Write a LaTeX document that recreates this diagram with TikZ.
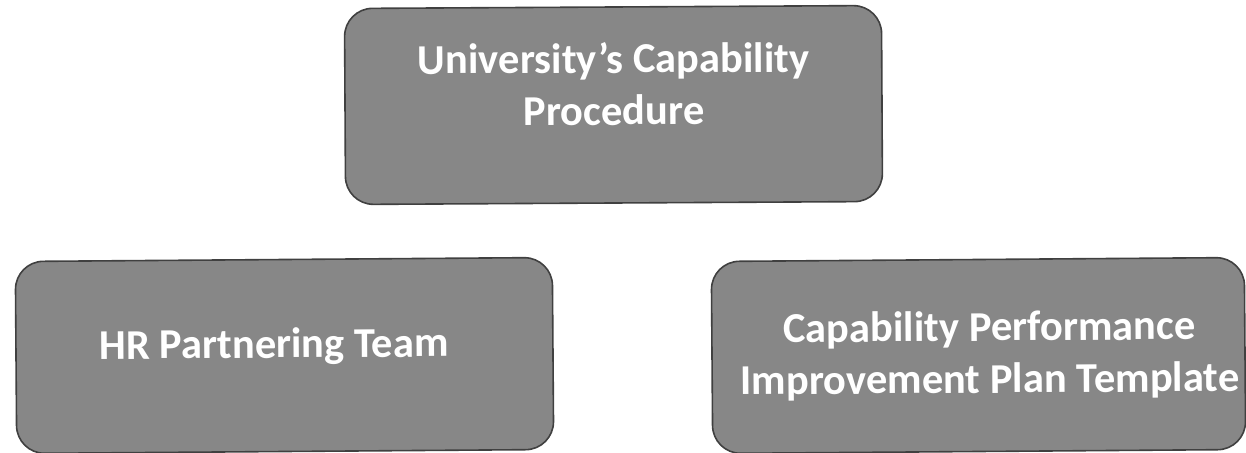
\documentclass[tikz,border=0pt]{standalone}
\usepackage{fontspec}
\setmainfont{Carlito}
\definecolor{cardfill}{HTML}{878787}
\definecolor{cardline}{HTML}{404040}
\begin{document}
\begin{tikzpicture}[x=1pt,y=-1pt,
  card/.style={draw=cardline, line width=1.6pt, fill=cardfill,
    rounded corners=28pt, inner sep=0pt, outer sep=0pt},
  cardtext/.style={text=white, font=\bfseries\fontsize{42.5}{52}\selectfont,
    align=center, anchor=base, inner sep=0pt}]
\useasboundingbox (0,0) rectangle (1246,452);
% the three cards
\node[card, minimum width=537pt, minimum height=196pt, rotate=0.32] (proc) at (613.5,105) {};
\node[card, minimum width=537pt, minimum height=192pt, rotate=0.43] (hr) at (284.5,355.5) {};
\node[card, minimum width=533pt, minimum height=192pt, rotate=0.43] (plan) at (978.5,355.5) {};
% card labels (base anchor sits on the last line)
\node[cardtext, rotate=0.32] (proctext) at (614,125) {University’s Capability\\Procedure};
\node[cardtext, rotate=0.43] (hrtext) at (274,358) {HR Partnering Team};
\node[cardtext, rotate=0.43] (plantext) at (990,393) {Capability Performance\\Improvement Plan Template};
\end{tikzpicture}
\end{document}
